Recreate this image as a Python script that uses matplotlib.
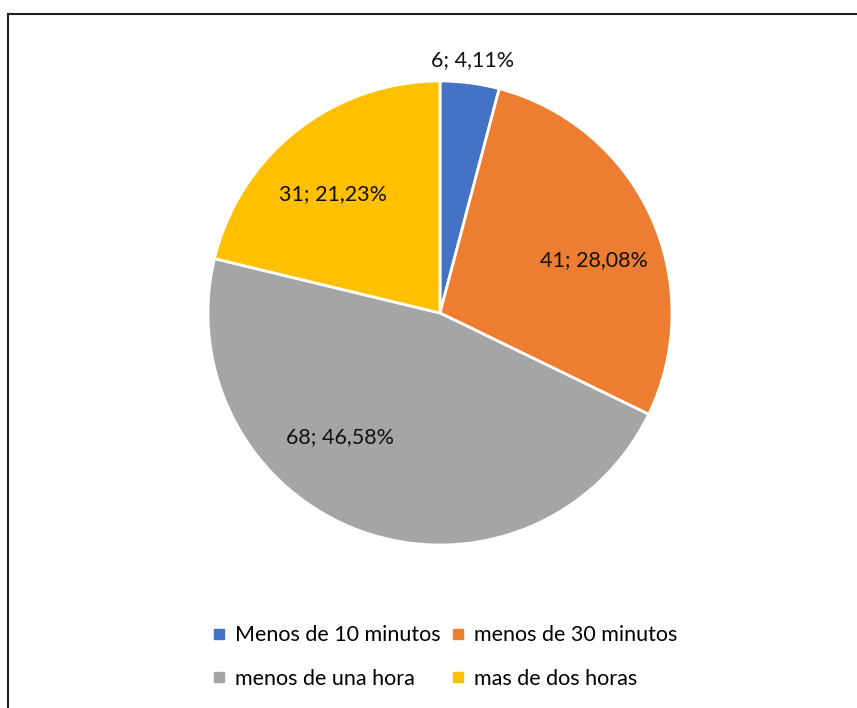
import numpy as np
import matplotlib.pyplot as plt
from matplotlib.lines import Line2D

plt.rcParams['font.family'] = ['Lato', 'DejaVu Sans']

categories = ["Menos de 10 minutos", "menos de 30 minutos",
              "menos de una hora", "mas de dos horas"]
counts = [6, 41, 68, 31]
percents = ["4,11%", "28,08%", "46,58%", "21,23%"]
colors = ["#4472C4", "#ED7D31", "#A5A5A5", "#FFC000"]

# label anchor points in pie units (radius = 1)
label_pos = [(0.142, 1.09), (0.664, 0.228), (-0.431, -0.534), (-0.461, 0.513)]

W, H = 857, 708
fig = plt.figure(figsize=(W / 100, H / 100), dpi=100)

cx, cy, r = 440, 313, 232
ax = fig.add_axes([(cx - r) / W, (H - cy - r) / H, 2 * r / W, 2 * r / H])
wedges, _ = ax.pie(counts, colors=colors, startangle=90, counterclock=False,
                   radius=1, wedgeprops=dict(edgecolor="white", linewidth=2.0))
ax.set_xlim(-1, 1)
ax.set_ylim(-1, 1)
ax.set_aspect("equal")
ax.axis("off")

fs = 15.5
for (x, y), n, p in zip(label_pos, counts, percents):
    ax.text(x, y, f"{n}; {p}", ha="center", va="center", fontsize=fs,
            color="#111111", clip_on=False)

# legend laid out row by row
handles = [Line2D([], [], marker="s", linestyle="none", markersize=7,
                  markerfacecolor=c, markeredgecolor=c) for c in colors]
order = [0, 2, 1, 3]
fig.legend([handles[i] for i in order], [categories[i] for i in order],
           ncol=2, loc="center", bbox_to_anchor=(445 / W, 1 - 657 / H),
           frameon=False, fontsize=fs, handlelength=0.6, handletextpad=0.45,
           columnspacing=0.5, labelspacing=1.1)

# chart frame (top and left edges)
lc = "#222222"
fig.add_artist(Line2D([8 / W, 1], [1 - 14 / H, 1 - 14 / H], color=lc, lw=1.5,
                      transform=fig.transFigure))
fig.add_artist(Line2D([8 / W, 8 / W], [0, 1 - 14 / H], color=lc, lw=1.5,
                      transform=fig.transFigure))

fig.savefig("out.png", dpi=100, facecolor="white")
